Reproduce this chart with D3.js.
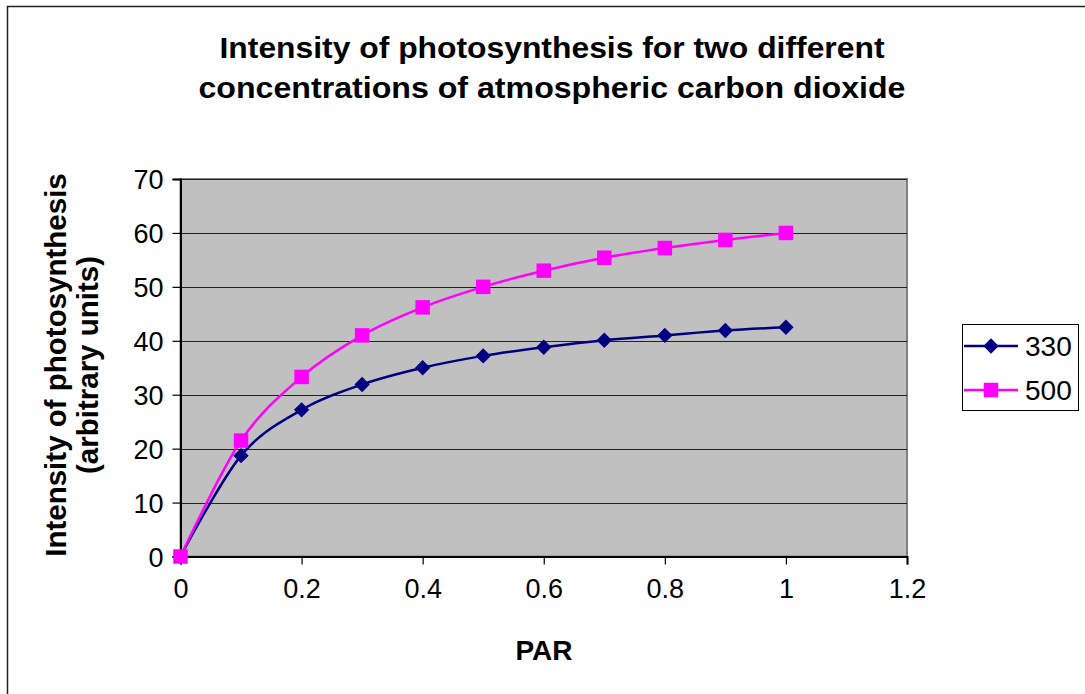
<!DOCTYPE html>
<html><head><meta charset="utf-8">
<script src="https://cdn.jsdelivr.net/npm/d3@7"></script>
<style>body{margin:0;background:#fff}svg{display:block;font-family:"Liberation Sans",Arial,sans-serif}</style>
</head><body><svg id="c" width="1085" height="694"></svg>
<script>
const parValues = [0, 0.1, 0.2, 0.3, 0.4, 0.5, 0.6, 0.7, 0.8, 0.9, 1.0];
const series330 = [0, 18.7, 27.2, 31.9, 35.0, 37.2, 38.8, 40.1, 41.0, 41.9, 42.5];
const series500 = [0, 21.5, 33.3, 41.0, 46.2, 50.0, 53.0, 55.4, 57.2, 58.7, 60.0];
const seriesNames = ["330", "500"];
const xTicks = [0, 0.2, 0.4, 0.6, 0.8, 1, 1.2];
const yTicks = [0, 10, 20, 30, 40, 50, 60, 70];
const titleLines = ["Intensity of photosynthesis for two different", "concentrations of atmospheric carbon dioxide"];
const yTitleLines = ["Intensity of photosynthesis", "(arbitrary units)"];
const xTitle = "PAR";

const svg = d3.select("#c");
svg.append("rect").attr("x",7.5).attr("y",6.5).attr("width",1200).attr("height",800)
  .attr("fill","#fff").attr("stroke","#222").attr("stroke-width",1.5);

const L=180.5, R=907, T=179, B=556.5;
const x = d3.scaleLinear().domain([0,1.2]).range([L,R]);
const y = d3.scaleLinear().domain([0,70]).range([B,T]);

svg.append("rect").attr("x",L).attr("y",T).attr("width",R-L).attr("height",B-T)
  .attr("fill","#c0c0c0").attr("stroke","#808080").attr("stroke-width",2);

// gridlines
svg.append("g").selectAll("line").data(yTicks.filter(d=>d>0)).join("line")
  .attr("x1",L).attr("x2",R).attr("y1",d=>Math.round(y(d))+0.5).attr("y2",d=>Math.round(y(d))+0.5)
  .attr("stroke","#222").attr("stroke-width",1);

// axes
const yAxis = d3.axisLeft(y).tickValues(yTicks).tickSize(8).tickPadding(9).tickFormat(d3.format("d"));
const gy = svg.append("g").attr("transform",`translate(${L},0)`).call(yAxis);
const xAxis = d3.axisBottom(x).tickValues(xTicks).tickSize(8).tickPadding(14).tickFormat(d=>String(d));
const gx = svg.append("g").attr("transform",`translate(0,${B})`).call(xAxis);
[gx,gy].forEach(g=>{
  g.select(".domain").attr("stroke","#000").attr("stroke-width",2);
  g.selectAll(".tick line").attr("stroke","#000").attr("stroke-width",1.2);
  g.selectAll("text").attr("font-size",27).attr("fill","#000").attr("font-family","Liberation Sans, Arial, sans-serif");
});
gy.selectAll("text").attr("dy","0.36em");

// title
const titleWidths = [665, 707];
titleLines.forEach((t,i)=>{
  svg.append("text").attr("x",552).attr("y",58+i*40).attr("text-anchor","middle")
    .attr("font-weight","bold").attr("font-size",29.5)
    .attr("textLength",titleWidths[i]).attr("lengthAdjust","spacingAndGlyphs").text(t);
});

// y title
yTitleLines.forEach((t,i)=>{
  svg.append("text").attr("transform",`translate(${66+i*32},365) rotate(-90)`)
    .attr("text-anchor","middle").attr("font-weight","bold").attr("font-size",29.5).text(t);
});

// x title
svg.append("text").attr("x",544).attr("y",660).attr("text-anchor","middle")
  .attr("font-weight","bold").attr("font-size",28).text(xTitle);

const colors = ["#000080","#ff00ff"];
const data = [series330, series500];
const line = d3.line().x((d,i)=>x(parValues[i])).y(d=>y(d)).curve(d3.curveCatmullRom.alpha(0));

const diamond = d3.symbol().type(d3.symbolSquare).size(118);
const square = d3.symbol().type(d3.symbolSquare).size(210);

data.forEach((s,k)=>{
  svg.append("path").datum(s).attr("d",line).attr("fill","none").attr("stroke",colors[k]).attr("stroke-width",2.5);
});
data.forEach((s,k)=>{
  svg.append("g").selectAll("path").data(s).join("path")
    .attr("transform",(d,i)=>`translate(${x(parValues[i])},${y(d)})` + (k===0?" rotate(45)":""))
    .attr("d",k===0?diamond:square).attr("fill",colors[k]);
});

// legend
const lg = svg.append("g");
lg.append("rect").attr("x",962.5).attr("y",324.5).attr("width",116).attr("height",86)
  .attr("fill","#fff").attr("stroke","#000").attr("stroke-width",1);
seriesNames.forEach((n,k)=>{
  const yy = 346+k*44;
  lg.append("line").attr("x1",964).attr("x2",1018).attr("y1",yy).attr("y2",yy).attr("stroke",colors[k]).attr("stroke-width",2.5);
  lg.append("path").attr("transform",`translate(991,${yy})` + (k===0?" rotate(45)":"")).attr("d",k===0?diamond:square).attr("fill",colors[k]);
  lg.append("text").attr("x",1025).attr("y",yy+10).attr("font-size",28).text(n);
});
</script></body></html>
